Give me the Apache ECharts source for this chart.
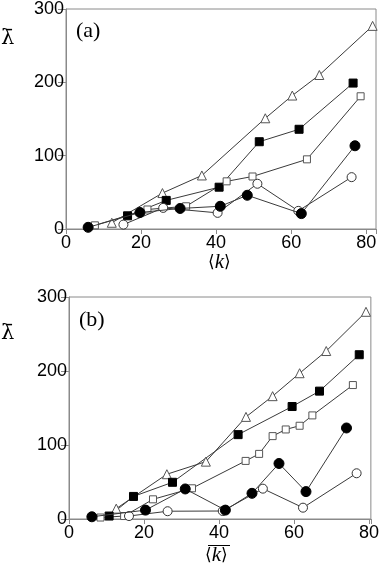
<!DOCTYPE html>
<html>
<head>
<meta charset="utf-8">
<script src="https://cdn.jsdelivr.net/npm/echarts@6/dist/echarts.min.js"></script>
<style>
  html, body { margin: 0; padding: 0; background: #fff; }
  #chart { width: 382px; height: 567px; }
</style>
</head>
<body>
<div id="chart"></div>
<script>
var myChart = echarts.init(document.getElementById('chart'));

// panel (a)
var aTriX = [12.2, 25.7, 36.2, 53.1, 60.3, 67.5, 81.7];
var aTriY = [8.5, 49, 73, 151, 182, 210, 277];
var aFsqX = [16.4, 26.7, 40.8, 51.5, 62.1, 76.5];
var aFsqY = [18, 39, 57, 119, 136, 199];
var aOsqX = [7.7, 21.7, 32, 42.8, 49.7, 64.2, 78.5];
var aOsqY = [5, 26.6, 31, 65, 71.6, 95, 181];
var aFciX = [5.9, 19.7, 30.4, 41.1, 48.3, 62.7, 77];
var aFciY = [2.3, 22.5, 28, 31, 46, 21, 113.5];
var aOciX = [15.3, 25.9, 40.4, 51, 61.9, 76.1];
var aOciY = [6, 28.8, 22, 61.7, 24.7, 70.7];

// panel (b)
var bTriX = [12.6, 26.1, 36.5, 47.2, 54.3, 61.5, 68.6, 79.2];
var bTriY = [14, 60.5, 77.5, 138, 166, 197, 227, 280];
var bFsqX = [10.7, 17.2, 27.6, 45.1, 59.5, 66.8, 77.4];
var bFsqY = [4, 30.5, 49.6, 114, 152, 172.8, 222];
var bOsqX = [8.4, 14.7, 22.4, 32.8, 47.1, 50.7, 54.3, 57.8, 61.5, 64.9, 75.7];
var bOsqY = [2, 4, 26.6, 41.5, 78.5, 88, 112, 121, 126, 140, 181];
var bFciX = [6.1, 20.4, 31, 41.7, 48.8, 56, 63.2, 74];
var bFciY = [3, 12, 40.6, 12, 34.7, 75, 37, 123];
var bOciX = [16, 26.3, 41, 51.7, 62.4, 76.7];
var bOciY = [4, 10.5, 10.8, 41, 15.3, 61.8];

var yTicks = [0, 100, 200, 300];

function zip(xs, ys) {
  return xs.map(function (x, i) { return [x, ys[i]]; });
}

var lineColor = '#3a3a3a';
var frameColor = '#8a8a8a';

function mk(idx, xs, ys, symbol, size, fill, border) {
  return {
    type: 'line',
    xAxisIndex: idx,
    yAxisIndex: idx,
    data: zip(xs, ys),
    symbol: symbol,
    symbolSize: size,
    showAllSymbol: true,
    lineStyle: { color: lineColor, width: 1 },
    itemStyle: { color: fill, borderColor: border, borderWidth: 1, opacity: 1 },
    animation: false,
    z: symbol === 'circle' && fill === '#000' ? 4 : 3
  };
}

function xAxisCfg(idx, max) {
  return {
    type: 'value',
    gridIndex: idx,
    min: 0,
    max: max,
    interval: 20,
    splitLine: { show: false },
    axisLine: { lineStyle: { color: frameColor, width: 1 } },
    axisTick: { length: 5, lineStyle: { color: frameColor } },
    axisLabel: {
      color: '#000',
      fontSize: 18,
      fontFamily: 'Liberation Sans',
      margin: 5,
      formatter: function (v) { return v % 20 === 0 ? String(v) : ''; }
    }
  };
}

function yAxisCfg(idx) {
  return {
    type: 'value',
    gridIndex: idx,
    min: yTicks[0],
    max: yTicks[yTicks.length - 1],
    interval: 100,
    splitLine: { show: false },
    axisLine: { lineStyle: { color: frameColor, width: 1 } },
    axisTick: { length: 8, lineStyle: { color: frameColor } },
    axisLabel: { color: '#000', fontSize: 18, fontFamily: 'Liberation Sans', margin: 2 }
  };
}

function kLabel(x, y) {
  return {
    type: 'text',
    left: x, top: y,
    style: {
      text: '{a|\u27E8}{k|k}{a|\u27E9}',
      rich: {
        a: { fontFamily: 'DejaVu Serif', fontSize: 17, fill: '#000' },
        k: { fontFamily: 'Liberation Serif', fontStyle: 'italic', fontSize: 21, fill: '#000' }
      }
    }
  };
}

function lamLabel(x, y) {
  return {
    type: 'text',
    left: x, top: y,
    style: { text: '\u03BB\u0304', fontFamily: 'DejaVu Serif', fontSize: 21, fill: '#000' }
  };
}

option = {
  backgroundColor: '#fff',
  grid: [
    { left: 66, top: 8, width: 310, height: 221, show: true, borderColor: frameColor, borderWidth: 1 },
    { left: 69, top: 297, width: 303, height: 222, show: true, borderColor: frameColor, borderWidth: 1 }
  ],
  xAxis: [xAxisCfg(0, 82.6), xAxisCfg(1, 80.5)],
  yAxis: [yAxisCfg(0), yAxisCfg(1)],
  series: [
    mk(0, aTriX, aTriY, 'triangle', 9, '#fff', '#555'),
    mk(0, aFsqX, aFsqY, 'rect', 8, '#000', '#000'),
    mk(0, aOsqX, aOsqY, 'rect', 7, '#fff', '#555'),
    mk(0, aFciX, aFciY, 'circle', 10, '#000', '#000'),
    mk(0, aOciX, aOciY, 'circle', 9, '#fff', '#333'),
    mk(1, bTriX, bTriY, 'triangle', 9, '#fff', '#555'),
    mk(1, bFsqX, bFsqY, 'rect', 8, '#000', '#000'),
    mk(1, bOsqX, bOsqY, 'rect', 7, '#fff', '#555'),
    mk(1, bFciX, bFciY, 'circle', 10, '#000', '#000'),
    mk(1, bOciX, bOciY, 'circle', 9, '#fff', '#333')
  ],
  graphic: [
    { type: 'text', left: 76, top: 20, style: { text: '(a)', fontFamily: 'Liberation Serif', fontSize: 22, fill: '#000' } },
    { type: 'text', left: 79, top: 309, style: { text: '(b)', fontFamily: 'Liberation Serif', fontSize: 22, fill: '#000' } },
    lamLabel(1, 28),
    lamLabel(1, 323),
    kLabel(208, 252),
    kLabel(205, 545),
    { type: 'line', shape: { x1: 208, y1: 545.5, x2: 230, y2: 545.5 }, style: { stroke: '#000', lineWidth: 1 } }
  ]
};
myChart.setOption(option);
</script>
</body>
</html>
